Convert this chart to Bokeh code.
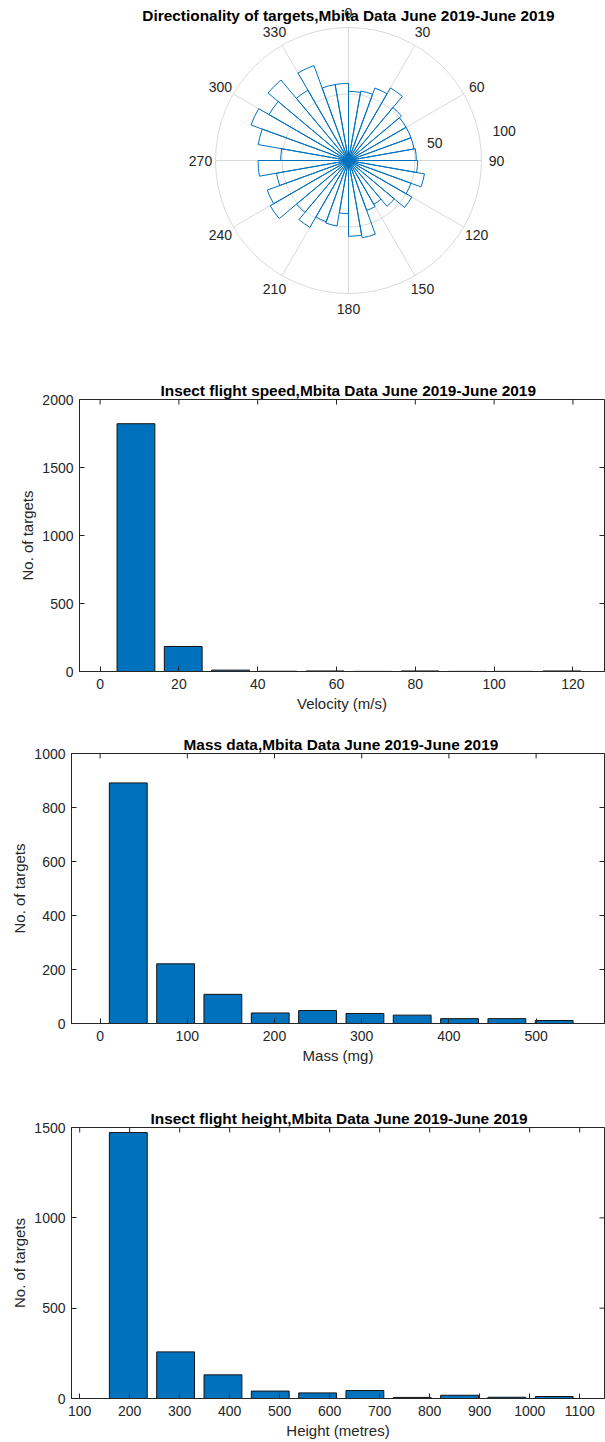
import numpy as np
from bokeh.plotting import figure
from bokeh.models import FixedTicker, Range1d
from bokeh.core.properties import value
from bokeh.embed import file_html
from bokeh.resources import INLINE

# ---------------- data ----------------
# Directionality (polar histogram, 10-degree bins, compass bearing clockwise from north)
direction_bin_start_deg = [0, 10, 20, 30, 40, 50, 60, 70, 80, 90, 100, 110,
                           120, 130, 140, 150, 160, 170, 180, 190, 200, 210, 220, 230,
                           240, 250, 260, 270, 280, 290, 300, 310, 320, 330, 340, 350]
direction_counts = [52, 53, 58, 63, 52, 50, 50, 50, 51, 52, 58, 50,
                    55, 45, 38, 40, 59, 57, 40, 50, 49, 58, 51, 68,
                    65, 55, 68, 51, 69, 78, 69, 79, 61, 76, 58, 58]
direction_bin_width_deg = 10
theta_ticks = [0, 30, 60, 90, 120, 150, 180, 210, 240, 270, 300, 330]
theta_labels = ["0", "30", "60", "90", "120", "150", "180", "210", "240", "270", "300", "330"]
r_ticks = [50, 100]
r_labels = ["50", "100"]

# Flight speed histogram
speed_centers = [9.1, 21.1, 33.1, 45.1, 57.1, 69.2, 81.2, 93.2, 105.2, 117.2]
speed_counts = [1822, 184, 10, 2, 4, 1, 4, 1, 1, 4]
speed_xticks = [0, 20, 40, 60, 80, 100, 120]
speed_yticks = [0, 500, 1000, 1500, 2000]

# Mass histogram
mass_centers = [32.3, 86.6, 140.8, 195.1, 249.4, 303.7, 357.9, 412.2, 466.5, 520.7]
mass_counts = [891, 221, 108, 39, 48, 37, 31, 18, 18, 11]
mass_xticks = [0, 100, 200, 300, 400, 500]
mass_yticks = [0, 200, 400, 600, 800, 1000]

# Flight height histogram
height_centers = [197.2, 291.8, 386.5, 481.1, 575.8, 670.4, 765.0, 859.7, 954.3, 1049.0]
height_counts = [1472, 258, 131, 41, 31, 44, 6, 18, 7, 11]
height_xticks = [100, 200, 300, 400, 500, 600, 700, 800, 900, 1000, 1100]
height_yticks = [0, 500, 1000, 1500]

# ---------------- style ----------------
FONT = "Liberation Sans"
AX = "#262626"
BLUE = "#0072BD"
GRID = "#dadada"
W = 605

# ---------------- polar plot ----------------
PX = 1.33          # pixels per count unit
CX, CY = 348, 160  # centre inside the figure (px)
PH = 350
pp = figure(width=W, height=PH, output_backend="svg", toolbar_location=None,
            x_range=Range1d(-CX / PX, (W - CX) / PX),
            y_range=Range1d(-(PH - CY) / PX, CY / PX),
            x_axis_type=None, y_axis_type=None, min_border=0)
pp.outline_line_color = None
pp.xgrid.visible = False
pp.ygrid.visible = False

th = np.radians(theta_ticks)
rmax = max(r_ticks)
pp.segment(x0=0, y0=0, x1=rmax * np.sin(th), y1=rmax * np.cos(th),
           line_color=GRID, line_width=1)
pp.circle(x=[0] * len(r_ticks), y=[0] * len(r_ticks), radius=r_ticks,
          fill_color=None, line_color=GRID, line_width=1)

starts = np.array(direction_bin_start_deg, dtype=float)
pp.wedge(x=0, y=0, radius=direction_counts,
         start_angle=np.radians(90 - (starts + direction_bin_width_deg)),
         end_angle=np.radians(90 - starts),
         fill_color=None, line_color=BLUE, line_width=1)

rl = 148 / PX
pp.text(x=rl * np.sin(th), y=rl * np.cos(th), text=theta_labels,
        text_font=value(FONT), text_font_size="14px", text_color=AX,
        text_align="center", text_baseline="middle")
ra = np.radians(80)
rt = np.array(r_ticks, dtype=float)
pp.text(x=rt * np.sin(ra), y=rt * np.cos(ra), text=r_labels,
        x_offset=13, y_offset=-6,
        text_font=value(FONT), text_font_size="14px", text_color=AX,
        text_align="left", text_baseline="middle")
pp.text(x=[0], y=[(CY - 15) / PX],
        text=["Directionality of targets,Mbita Data June 2019-June 2019"],
        text_font=value(FONT), text_font_size="15.4px", text_font_style="bold",
        text_color="#000000", text_align="center", text_baseline="middle")


# ---------------- histograms ----------------
def style_axis(ax, ticks):
    ax.ticker = FixedTicker(ticks=ticks)
    ax.axis_line_color = AX
    ax.major_tick_line_color = AX
    ax.major_tick_in = 5
    ax.major_tick_out = 0
    ax.minor_tick_in = 0
    ax.minor_tick_out = 0
    ax.minor_tick_line_color = None
    ax.major_label_text_font = FONT
    ax.major_label_text_font_size = "14px"
    ax.major_label_text_color = AX
    ax.axis_label_text_font = FONT
    ax.axis_label_text_font_size = "15px"
    ax.axis_label_text_font_style = "normal"
    ax.axis_label_text_color = AX


def hist_fig(height, top, bottom, left, xr, yr, xticks, yticks, title, toffset,
             xlabel, centers, counts, bar_w):
    p = figure(width=W, height=height, output_backend="svg", toolbar_location=None,
               x_range=Range1d(*xr), y_range=Range1d(*yr),
               min_border_left=left, min_border_right=1,
               min_border_top=top, min_border_bottom=bottom)
    p.outline_line_color = AX
    p.outline_line_width = 1
    p.xgrid.visible = False
    p.ygrid.visible = False
    p.vbar(x=centers, top=counts, width=bar_w, bottom=0,
           fill_color=BLUE, line_color="#141414", line_width=1)
    # mirrored inward ticks on the top and right edges of the box
    p.ray(x=xticks, y=[yr[1]] * len(xticks), length=5, length_units="screen",
          angle=-np.pi / 2, line_color=AX, line_width=1)
    p.ray(x=[xr[1]] * len(yticks), y=yticks, length=5, length_units="screen",
          angle=np.pi, line_color=AX, line_width=1)
    style_axis(p.xaxis[0], xticks)
    style_axis(p.yaxis[0], yticks)
    p.xaxis.axis_label = xlabel
    p.yaxis.axis_label = "No. of targets"
    p.xaxis.major_label_standoff = 7
    p.xaxis.axis_label_standoff = 3
    p.yaxis.major_label_standoff = 6
    p.yaxis.axis_label_standoff = 3
    p.title.text = title
    p.title.align = "left"
    p.title.offset = toffset
    p.title.standoff = 1
    p.title.text_font = FONT
    p.title.text_font_size = "15.4px"
    p.title.text_font_style = "bold"
    p.title.text_color = "#000000"
    return p


ps = hist_fig(375, 49, 54, 79, ((79 - 99.6) / 3.94, (604 - 99.6) / 3.94), (0, 2000),
              speed_xticks, speed_yticks,
              "Insect flight speed,Mbita Data June 2019-June 2019", 81,
              "Velocity (m/s)", speed_centers, speed_counts, 9.6)

pm = hist_fig(365, 28, 67, 71, ((71 - 99.6) / 0.872, (604 - 99.6) / 0.872), (0, 1000),
              mass_xticks, mass_yticks,
              "Mass data,Mbita Data June 2019-June 2019", 112,
              "Mass (mg)", mass_centers, mass_counts, 43.4)

ph = hist_fig(352, 37, 44, 71, (100 + (71 - 79.2) / 0.5, 100 + (604 - 79.2) / 0.5), (0, 1500),
              height_xticks, height_yticks,
              "Insect flight height,Mbita Data June 2019-June 2019", 79,
              "Height (metres)", height_centers, height_counts, 75.7)

open("out.html", "w").write(file_html([pp, ps, pm, ph], INLINE))
